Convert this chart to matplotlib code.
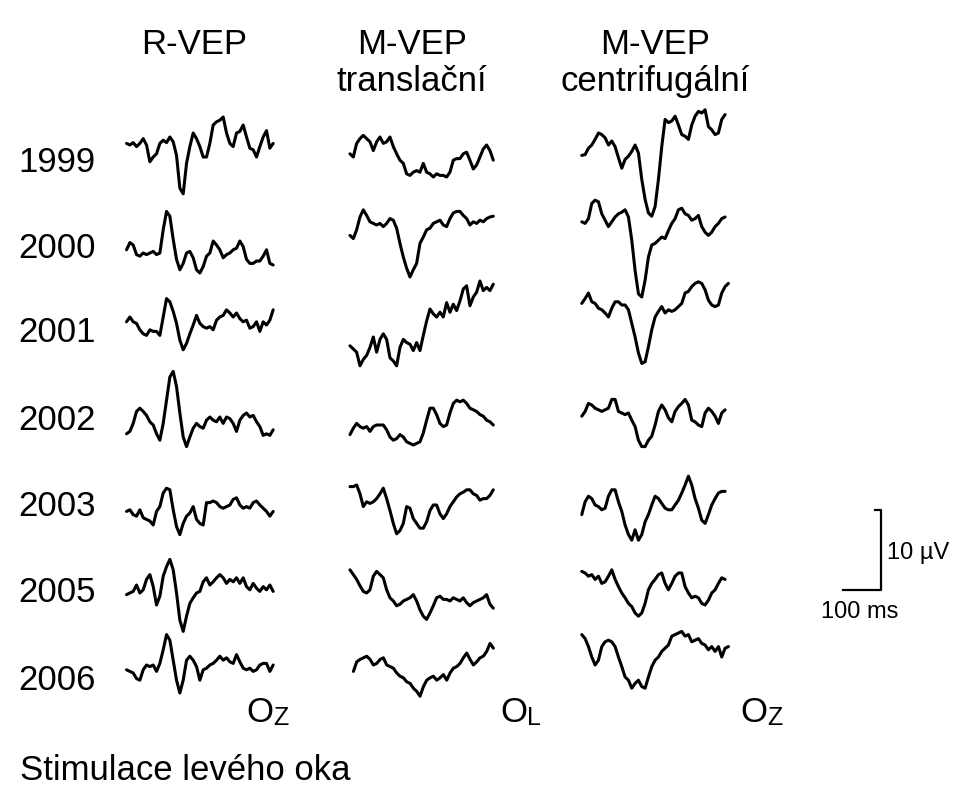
import numpy as np
import matplotlib.pyplot as plt

plt.rcParams['font.family'] = ['Liberation Sans', 'DejaVu Sans']

years = ['1999', '2000', '2001', '2002', '2003', '2005', '2006']
col_titles = ['R-VEP', 'M-VEP\ntranslační', 'M-VEP\ncentrifugální']
electrodes = [('O', 'Z'), ('O', 'L'), ('O', 'Z')]

# sampling step of the averaged responses (ms)
DT = 8.77

# R-VEP, Oz (µV)
rvep = [
    [0, -0.2, 0.1, -0.4, 0, 0.6, -0.2, -2.3, -1.7, -1.3, 0, 0.4, 0.1, 0.8, 0.2, -1.5, -5.6, -6.3, -2.5, -0.4,
     1.3, 0.6, -0.4, -1.7, -1.7, 0, 2.3, 2.7, 2.9, 3.3, 1.3, 0, -0.4, 1.3, 1.5, 2.3, 0.8, -0.6, -0.8, -1.7,
     -0.4, 0.8, 1.6, -0.6, 0],
    [0.4, 1.3, 1.0, -0.2, -0.4, 0, -0.2, 0, 0.2, -0.2, 0, 2.9, 5.2, 4.6, 1.7, -0.8, -2.1, -1.3, 0, 0.2,
     -0.6, -2.1, -2.5, -1.7, -0.4, 0, 1.5, 1.0, 0.4, -0.6, -0.2, 0, 0.4, 0.6, 1.5, 0.8, -0.8, -1.3, -1.3, -1.0,
     -1.0, -0.4, 0.4, -1.3, -1.5],
    [0.2, 0.8, 0.2, 0, -0.8, -1.3, -1.5, -0.8, -1.0, -1.0, -1.5, 0.8, 3.1, 2.7, 1.5, 0, -2.1, -3.3, -2.5, -1.3,
     -0.2, 1.0, 0, -0.4, -0.6, -0.4, -0.8, 0.4, 0.8, 1.0, 1.7, 1.3, 0.8, 1.3, 0.6, 0.2, 0.4, -0.6, -0.4, 0.2,
     -1.0, 0.2, -0.2, 0.4, 1.7],
    [-1.3, -1.0, 0, 1.5, 1.9, 1.5, 1.0, 0.2, -0.2, -1.3, -2.1, 0, 2.9, 5.8, 6.5, 4.6, 1.3, -1.7, -2.9, -1.7,
     -0.6, 0, -0.4, -0.6, 0.4, 0.8, 0.4, 0.2, 0.8, 0, 0.8, 0.6, 0, -1.0, 0.4, 1.0, 1.3, 0.8, 1.0, 0.2,
     -0.4, -1.5, -1.3, -1.5, -0.8],
    [0.2, 0.4, -0.2, -0.4, 0.4, -0.6, -0.8, -1.0, -1.5, 0.2, 0.8, 2.5, 3.1, 2.9, 0.4, -1.7, -2.7, -1.3, -0.4, 0,
     0.8, -0.8, -1.3, -1.5, 1.3, 1.3, 1.5, 1.3, 0.8, 0.6, 0.8, 1.0, 1.7, 1.9, 1.0, 0.6, 0.8, 0.6, 1.3, 1.5,
     1.0, 0.6, 0.2, -0.4, 0.2],
    [-0.6, -0.4, -0.2, 0.6, -0.4, 0, 1.3, 1.9, 0.4, -1.9, -0.8, 1.7, 2.9, 3.8, 2.5, -0.4, -3.8, -5.2, -3.3, -1.7,
     -1.0, -0.4, -0.2, 1.0, 1.5, 0.6, 1.0, 1.5, 1.9, 1.5, 0.8, 1.3, 1.0, 1.5, 0.8, 1.5, 0.4, 0, 0.8, 0.2,
     -0.2, 0.4, 0, 0.6, -0.2],
    [-0.2, -0.4, -0.6, -1.3, -1.5, -0.2, 0.4, 0.2, 0.4, -0.4, 0.6, 2.3, 4.2, 3.5, 1.0, -1.5, -3.1, -1.5, 1.0, 1.5,
     1.0, 0.2, -1.5, -0.2, 0, 0.4, 0.6, 1.0, 1.5, 1.0, 1.3, 0.8, 0.6, 1.7, 0.8, 0, -0.2, 0, -0.4, -0.2,
     0.4, 0.6, 0.6, -0.4, 0.4],
]

# M-VEP translační, OL (µV)
mvep_trans = [
    [0.4, 0, 1.7, 2.3, 2.7, 2.3, 1.9, 0.8, 1.9, 2.5, 1.7, 1.9, 2.5, 1.3, 0.4, -0.4, -0.8, -2.1, -2.3, -1.9,
     -1.7, -1.9, -0.8, -1.9, -2.1, -2.5, -2.1, -2.3, -2.3, -2.5, -1.9, -0.4, -0.2, -0.2, 0.4, 0.6, -0.4, -1.5,
     -1.0, 0, 1.0, 1.5, 0.8, -0.4],
    [-1.5, -1.9, -0.8, 0.8, 1.7, 1.0, 0.2, 0, -0.2, 0, -0.4, 0, 0.6, 0.4, -0.6, -2.5, -4.2, -5.6, -6.7, -5.8,
     -5.0, -2.5, -1.7, -0.8, -0.6, 0, 0.2, 0.4, -0.2, -0.4, 0.6, 1.3, 1.5, 1.5, 1.0, 0.6, -0.2, 0.2, 0, 0.4,
     0.2, 0.6, 0.8, 0.9],
    [0.2, -0.2, -0.6, -2.3, -1.5, -1.0, 0, 1.3, -0.6, 1.0, 1.7, 1.0, -1.3, -1.7, -2.3, 0, 1.0, 0.6, 0.4, -0.4,
     0.6, -0.4, 1.5, 3.3, 4.8, 4.2, 3.8, 4.4, 3.8, 5.6, 4.4, 5.4, 4.6, 5.8, 7.3, 7.7, 5.2, 6.3, 6.9, 8.3,
     7.1, 7.5, 7.1, 7.9],
    [-1.0, -0.2, 0.4, 0, -0.2, 0, -0.6, 0, 0.2, 0.2, 0.2, -0.4, -1.3, -1.7, -1.5, -1.0, -1.3, -1.9, -2.1, -2.3,
     -2.1, -1.9, -0.8, 0.8, 2.3, 2.3, 1.5, 0.4, 0, 0.2, 1.7, 2.9, 3.3, 3.1, 3.3, 2.9, 2.3, 2.1, 1.9, 1.5,
     1.3, 0.8, 0.6, 0.2],
    [1.7, 1.7, 1.9, 0.8, -0.8, -0.2, -0.4, -0.2, 0.2, 0.8, 1.5, 0.2, -1.3, -2.9, -4.2, -3.8, -2.9, -0.8, -1.0, -2.3,
     -2.9, -3.5, -3.5, -2.7, -1.3, -0.6, -0.6, -1.7, -2.3, -1.7, -0.8, -0.2, 0.4, 0.8, 1.0, 1.3, 1.3, 0.8, 0.6, 0,
     0.2, 0.2, 0.6, 1.3],
    [3.5, 2.9, 2.3, 1.5, 0.8, 0.6, 1.0, 2.7, 3.3, 2.9, 2.5, 1.0, 0, -0.4, -1.0, -0.8, -0.4, -0.2, 0, 0.4,
     -0.4, -1.5, -2.3, -2.7, -1.9, -1.0, 0, 0.2, -0.2, -0.2, -0.4, 0, -0.2, -0.4, 0, -0.6, -1.0, -0.6, -0.4, -0.2,
     0, 0.4, -0.8, -1.3],
    [-0.2, 1.0, 1.3, 1.5, 1.7, 1.3, 0.6, 0.8, 1.3, 1.5, 0.6, 0.4, 0.2, -0.4, -0.8, -1.0, -1.5, -1.7, -2.3, -2.7,
     -3.3, -2.1, -1.3, -1.0, -0.8, -1.3, -1.0, -0.6, -1.3, -0.4, 0.2, 0.4, 0.8, 1.5, 2.1, 1.3, 0.6, 1.0, 1.5, 1.7,
     2.3, 3.3, 2.7],
]

# M-VEP centrifugální, Oz (µV)
mvep_centr = [
    [-0.3, -0.2, 0.6, 1.0, 1.7, 2.5, 2.3, 1.9, 1.0, 1.5, 0.8, -0.6, -1.9, -0.8, -0.4, 0.2, 1.0, 0, -3.3, -5.8,
     -7.5, -7.9, -6.7, -3.3, 0.8, 4.2, 3.8, 4.0, 4.6, 3.5, 2.3, 2.1, 1.7, 3.5, 4.6, 5.2, 5.0, 5.4, 3.3, 2.9,
     2.3, 2.5, 4.2, 4.8],
    [-0.2, -0.4, 0.2, 2.1, 2.5, 2.3, 0.8, 0, -0.8, -0.2, 0.4, 0.8, 1.0, 1.3, 0.4, -2.5, -6.3, -9.2, -9.6, -7.5,
     -4.6, -3.1, -2.9, -2.5, -2.1, -2.3, -1.3, -0.4, 0.2, 1.3, 1.5, 0.8, 0.6, 0, 0.2, 0.6, -0.8, -1.5, -1.9, -1.5,
     -0.8, -0.4, 0.2, 0.4],
    [0.4, 1.0, 1.7, 0.6, 0.4, -0.2, -0.4, -0.8, -1.3, -0.2, 0.6, 0.6, 0.2, 0.2, -0.4, -2.1, -3.8, -5.8, -7.1, -6.9,
     -5.0, -2.9, -1.3, -0.6, 0, -0.8, -0.4, -0.6, -0.4, 0, 0.4, 1.7, 1.9, 2.5, 2.9, 3.1, 2.9, 2.1, 0.8, 0.2,
     0, 0.2, 1.7, 2.5, 2.9],
    [-0.8, -0.2, 0.8, 0.6, 0.2, 0, -0.2, 0, 0.2, 1.3, 1.3, -0.2, -0.4, -0.6, -0.4, -1.3, -2.1, -3.8, -4.6, -4.6,
     -3.8, -3.3, -1.9, -0.2, 0.6, 0, -1.0, -1.5, -0.2, 0.4, 0.8, 1.3, 0.6, -1.3, -1.5, -1.9, -2.1, -0.4, 0.2, -0.2,
     -0.8, -1.7, -0.4, 0],
    [-1.0, 0.6, 1.3, 1.0, 0.2, 0, -0.4, -0.2, 1.3, 2.1, 2.1, 0.6, -0.6, -2.3, -3.5, -4.2, -2.9, -4.2, -3.5, -1.9,
     -1.0, 0.2, 1.3, 1.0, 0.4, -0.2, -0.4, -0.4, 0.2, 0.8, 1.7, 2.7, 3.8, 2.7, 1.0, -0.2, -1.7, -2.1, -1.0, 0.2,
     1.0, 1.7, 1.9, 1.9],
    [2.3, 2.1, 1.7, 1.9, 1.3, 1.7, 0.8, 1.0, 1.7, 2.5, 1.3, 0.4, -0.4, -1.0, -1.7, -2.1, -2.9, -3.3, -2.9, -1.7,
     0, 0.8, 1.3, 1.9, 2.1, 0.8, 0, 0.8, 1.7, 2.1, 2.1, 0.4, -0.4, -1.0, -0.8, -1.0, -1.7, -1.9, -1.3, -0.4,
     0, 0.8, 1.5, 1.3],
    [1.5, 1.0, 0, -1.3, -2.3, -1.7, 0, 0.6, 0.8, 0.6, 0, -1.3, -2.5, -3.8, -4.2, -5.2, -4.6, -4.2, -5.0, -5.2,
     -3.8, -2.5, -1.7, -1.3, -0.6, -0.2, 0.2, 1.3, 1.5, 1.7, 1.9, 1.3, 1.5, 0.6, 0.8, 1.0, 0.4, 0.2, -0.4, 0,
     -0.6, 0, -1.3, -0.2, 0],
]

columns = [rvep, mvep_trans, mvep_centr]

# layout: trace start (ms) and baseline (µV) in the stacked axes
start_ms = [[333] * 7, [921] * 6 + [930], [1531] * 7]
baseline_uv = [
    [80.7, 67.0, 58.2, 45.7, 34.5, 24.9, 15.1],
    [79.0, 70.7, 55.2, 45.3, 36.1, 23.9, 14.9],
    [79.5, 71.1, 60.3, 47.4, 35.3, 24.9, 17.8],
]

W, H = 954, 789
fig = plt.figure(figsize=(W / 100, H / 100), dpi=100)
ax = fig.add_axes([0, 0, 1, 1])
# 0.38 px per ms, 8 px per µV
ax.set_xlim(0, W / 0.38)
ax.set_ylim(0, H / 8)
ax.axis('off')

for c, traces in enumerate(columns):
    for r, vals in enumerate(traces):
        vals = np.array(vals)
        t = start_ms[c][r] + np.arange(len(vals)) * DT
        ax.plot(t, baseline_uv[c][r] + vals, color='black', lw=2.2,
                solid_joinstyle='round', solid_capstyle='round')

# scale bar: 100 ms x 10 µV
sx, sy = 2318, 24.9
ax.plot([sx - 100, sx, sx, sx - 16], [sy, sy, sy + 10, sy + 10], color='black', lw=1.6)
fig.text(887 / W, 1 - 553 / H, '10 µV', fontsize=17, ha='left', va='center')
fig.text(860 / W, 1 - 612 / H, '100 ms', fontsize=17, ha='center', va='center')

# column titles
for x, title in zip([194, 412, 655], col_titles):
    fig.text(x / W, 1 - 28 / H, title, fontsize=25, ha='center', va='top', linespacing=1.15)

# year labels
for y, yr in zip([163, 248, 333, 420, 507, 592, 680], years):
    fig.text(18 / W, 1 - y / H, yr, fontsize=25, ha='left', va='center')

# electrode labels
for x, (main, sub) in zip([246, 500, 740], electrodes):
    fig.text(x / W, 1 - 712 / H, main, fontsize=25, ha='left', va='center')
    fig.text((x + 27) / W, 1 - 718 / H, sub, fontsize=18, ha='left', va='center')

fig.text(20 / W, 1 - 770 / H, 'Stimulace levého oka', fontsize=25, ha='left', va='center')

fig.savefig('out.png', dpi=100)
